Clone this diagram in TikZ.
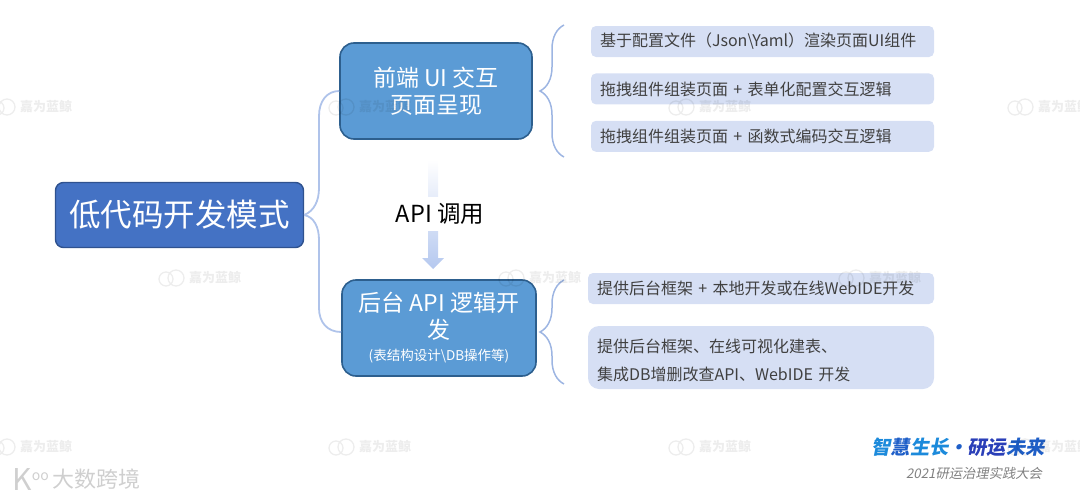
\documentclass[tikz,border=0pt]{standalone}
\usepackage{fontspec}
\setmainfont{Noto Sans CJK SC}
\newfontfamily\cjkslant[FakeSlant=0.2]{Noto Sans CJK SC}
\usepackage{tikz}
\usetikzlibrary{positioning}
\usetikzlibrary{calc,decorations.pathreplacing}
\definecolor{rootfill}{HTML}{4472C4}
\definecolor{rootline}{HTML}{2F528F}
\definecolor{subfill}{HTML}{5B9BD5}
\definecolor{subline}{HTML}{2D5F8E}
\definecolor{itemfill}{HTML}{D6DFF4}
\definecolor{linkblue}{HTML}{AFC3EA}
\definecolor{bracecol}{HTML}{9DB5E2}
\definecolor{arrowblue}{HTML}{B5C8EF}
\definecolor{inktext}{HTML}{404040}
\definecolor{logogrey}{HTML}{CFCFCF}
\definecolor{sloganlight}{HTML}{1C8ADB}
\definecolor{sloganblue}{HTML}{1F5FC8}
\definecolor{slogandark}{HTML}{2A3FB8}
\tikzset{
	rootbox/.style = {rectangle, rounded corners=8pt, draw=rootline, fill=rootfill, line width=1.4pt,
		minimum width=248pt, minimum height=65pt, text=white, font=\fontsize{31.5}{36}\selectfont},
	subbox/.style = {rectangle, rounded corners=14pt, draw=subline, fill=subfill, line width=1.6pt,
		minimum width=192pt, minimum height=96pt, inner sep=0pt, text=white, align=center,
		font=\fontsize{23}{27}\selectfont},
	itembox/.style = {rectangle, rounded corners=5pt, fill=itemfill, text=inktext, align=left,
		text width=325pt, inner xsep=9pt, inner ysep=0pt, minimum height=31pt,
		font=\fontsize{16}{28}\selectfont},
	link/.style = {draw=linkblue, line width=1.8pt},
	bracket/.style = {draw=bracecol, line width=1.5pt, decorate, decoration={brace, amplitude=24pt}},
	wmark/.style = {text=black, text opacity=0.07, font=\fontsize{13}{15}\selectfont\bfseries, inner sep=0pt},
}
\begin{document}
\begin{tikzpicture}[x=1pt, y=-1pt]
	\useasboundingbox (0,0) rectangle (1080,498);
	\node (root) [rootbox] at (179.5,215) {低代码开发模式};
	\node (front) [subbox] at (436,91) {前端 UI 交互\\页面呈现};
	\node (back) [subbox, minimum width=194pt] at (439,328) {后台 API 逻辑开\\发\\[-5pt]{\fontsize{13.5}{15}\selectfont (表结构设计\textbackslash DB操作等)}};
	\node (fa) [itembox] at (762.5,41.5) {基于配置文件（Json\textbackslash Yaml）渲染页面UI组件};
	\node (fb) [itembox, below = 16pt of fa] {拖拽组件组装页面 + 表单化配置交互逻辑};
	\node (fc) [itembox, below = 16pt of fb] {拖拽组件组装页面 + 函数式编码交互逻辑};
	\node (ba) [itembox, text width=328pt] at (761,288.5) {提供后台框架 + 本地开发或在线WebIDE开发};
	\node (bb) [itembox, text width=328pt, rounded corners=11pt, minimum height=63pt] at (761,357.5) {\rule{0pt}{20pt}提供后台框架、在线可视化建表、\\集成DB增删改查API、WebIDE 开发};
	\coordinate (ftop) at (564,25);
	\coordinate (fbot) at (564,157);
	\coordinate (btop) at (564,280);
	\coordinate (bbot) at (564,384);
	\coordinate (apitop) at (433,160);
	\coordinate (apitip) at (433,269);
	\draw[link] (root.east) .. controls (314,211) and (319,201) .. (319,188) -- (319,116) .. controls (319,101) and (327,91) .. (front.west);
	\draw[link] (root.east) .. controls (314,217) and (319,227) .. (319,240) -- (319,308) .. controls (319,322) and (327,332) .. ($(back.west)+(0,4)$);
	\draw[bracket] (fbot) -- (ftop);
	\draw[bracket] (bbot) -- (btop);
	\shade[top color=white, middle color=arrowblue!25, bottom color=arrowblue] ($(apitop)+(-5,0)$) -- ($(apitop)+(5,0)$) -- ($(apitip)+(5,-11)$) -- ($(apitip)+(11,-11)$) -- (apitip) -- ($(apitip)+(-11,-11)$) -- ($(apitip)+(-5,-11)$) -- cycle;
	\node (api) [fill=white, inner xsep=4pt, inner ysep=6pt, font=\fontsize{23.5}{27}\selectfont] at (440,214) {API 调用};
	\node (slogan) [inner sep=0pt, font=\fontsize{19.2}{24}\selectfont\cjkslant\bfseries] at (958,447) {\textcolor{sloganlight}{智}\textcolor{sloganblue}{慧}\textcolor{sloganlight}{生长}\textcolor{sloganblue}{·}\textcolor{slogandark}{研运}\textcolor{sloganblue}{未来}};
	\node (meeting) [text=gray, inner sep=0pt, font=\fontsize{13.3}{15}\selectfont\cjkslant, below = 10pt of slogan, xshift=16pt] {2021研运治理实践大会};
	\node (logo) [text=logogrey, inner sep=0pt, anchor=west, font=\fontsize{22}{24}\selectfont] at (52,479) {大数跨境};
	\node (logok) [text=logogrey, inner sep=0pt, anchor=east, font=\fontsize{30}{32}\selectfont] at ($(logo.west)+(-3,0)$) {K\raisebox{10pt}{\fontsize{14}{15}\selectfont oo}};
	% pale marks over everything
	\foreach \wx/\wy [count=\wi] in {-11/107, 158/278, 328/107, 498/278, 668/107, 838/278, 1007/107,
		-11/447, 328/447, 668/447, 1007/447} {
		\draw[black, opacity=0.07, line width=1.3pt] (\wx+8,\wy+1) circle (7) (\wx+18,\wy) circle (8);
		\node (mark\wi) [wmark, anchor=west] at (\wx+31,\wy) {嘉为蓝鲸};
	}
\end{tikzpicture}
\end{document}
